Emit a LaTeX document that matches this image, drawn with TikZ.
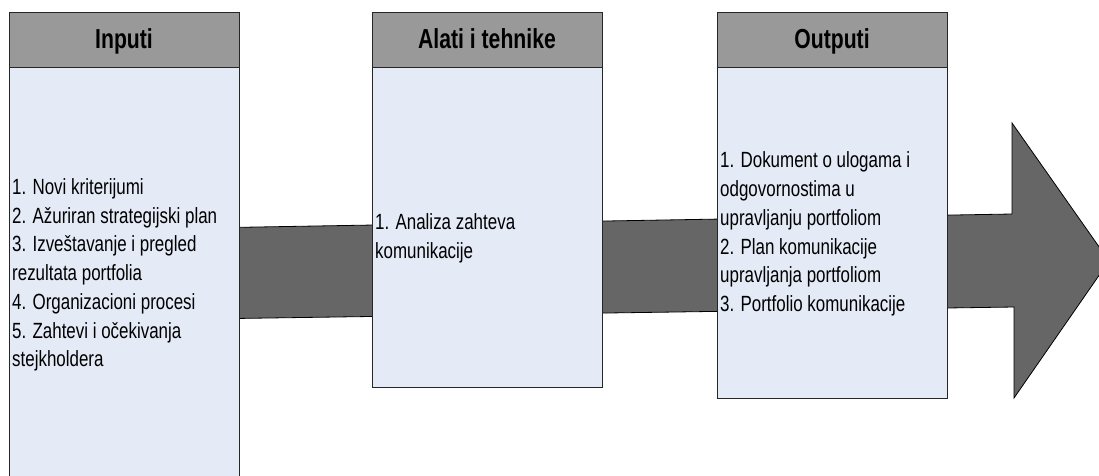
\documentclass[tikz,border=0pt]{standalone}
\usepackage{fontspec}
\setmainfont{Liberation Sans}[FakeStretch=0.77]
\usetikzlibrary{positioning}
\definecolor{hdrgray}{HTML}{999999}
\definecolor{panefill}{HTML}{E5EBF6}
\definecolor{flowgray}{HTML}{666666}
\tikzstyle{hdr} =[rectangle, draw=black!85, fill=hdrgray,
                  line width=0.8pt, minimum width=230pt,
                  minimum height=55pt, inner sep=0pt, outer sep=0pt,
                  text height=21pt, text depth=4pt,
                  font=\fontsize{27.5}{30}\selectfont\bfseries]
\tikzstyle{pane}=[rectangle, draw=black!85, fill=panefill,
                  line width=0.8pt, minimum width=230pt,
                  inner sep=0pt, outer sep=0pt]
\tikzstyle{item}=[anchor=west, align=left, inner sep=3pt,
                  font=\fontsize{22}{28.7}\selectfont]
\tikzstyle{flow}=[draw=black, fill=flowgray, line width=0.8pt]

\begin{document}
\begin{tikzpicture}[x=1pt, y=-1pt]
        \useasboundingbox (0,0) rectangle (1099,475);
        \clip (0,0) rectangle (1099,475);

        % big arrow behind the panes
        \coordinate (a1) at (200,228);
        \coordinate (a2) at (1012,214);
        \coordinate (a3) at (1012,123);
        \coordinate (a4) at (1109,261);
        \coordinate (a5) at (1014,398);
        \coordinate (a6) at (1014,307);
        \coordinate (a7) at (200,319);
        \draw[flow] (a1) -- (a2) -- (a3) -- (a4) -- (a5) -- (a6) -- (a7) -- cycle;

        \node[hdr] (h1) at (124,39.5) {Inputi};
        \node[pane, below=0pt of h1, minimum height=413pt] (p1) {};
        \node[hdr, right=133pt of h1] (h2) {Alati i tehnike};
        \node[pane, below=0pt of h2, minimum height=320pt] (p2) {};
        \node[hdr, right=115pt of h2] (h3) {Outputi};
        \node[pane, below=0pt of h3, minimum height=331pt] (p3) {};

        \node[item] (t1) at (p1.west |- 0,275) {1. Novi kriterijumi\\
                2. Ažuriran strategijski plan\\
                3. Izveštavanje i pregled\\
                rezultata portfolia\\
                4. Organizacioni procesi\\
                5. Zahtevi i očekivanja\\
                stejkholdera};
        \node[item] (t2) at (p2.west |- 0,238) {1. Analiza zahteva\\
                komunikacije};
        \node[item] (t3) at (p3.west |- 0,234) {1. Dokument o ulogama i\\
                odgovornostima u\\
                upravljanju portfoliom\\
                2. Plan komunikacije\\
                upravljanja portfoliom\\
                3. Portfolio komunikacije};

\end{tikzpicture}
\end{document}
